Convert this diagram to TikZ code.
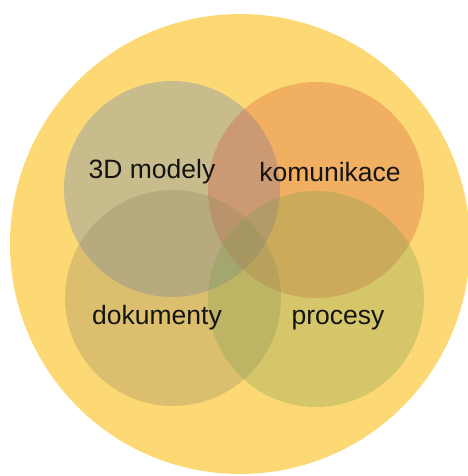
\documentclass[tikz,border=0pt]{standalone}
\usepackage{fontspec}
\setmainfont{Liberation Sans}
\usepackage{tikz}
\usetikzlibrary{positioning}

\definecolor{bigyellow}{RGB}{253,217,117}
\definecolor{modelgray}{RGB}{80,120,194}
\definecolor{commorange}{RGB}{210,80,54}
\definecolor{docgold}{RGB}{143,134,94}
\definecolor{procolive}{RGB}{123,160,80}

\begin{document}
\begin{tikzpicture}[
      x=1pt, y=-1pt,
      circle_big/.style={
         circle,
         fill=bigyellow,
         inner sep=0pt,
         minimum size=460pt},
      circle_part/.style={
         circle,
         fill opacity=0.3,
         text opacity=1,
         inner sep=0pt,
         minimum size=216pt},
      label_txt/.style={
         text=black!92,
         inner sep=0pt,
         font=\fontsize{26.5}{30}\selectfont}
]
      \useasboundingbox (0,0) rectangle (467,476);

      %background
      \node[circle_big] (big) at (240,244) {};

      %four areas
      \node[circle_part,fill=modelgray] (models) at (172,189) {};
      \node[circle_part,fill=commorange] (comm) at (316,190) {};
      \node[circle_part,fill=docgold] (docs) at (173,298) {};
      \node[circle_part,fill=procolive] (proc) at (316,299) {};

      %labels
      \node[label_txt] (models_t) at (152,172) {3D modely};
      \node[label_txt] (comm_t) at (330,172) {komunikace};
      \node[label_txt] (docs_t) at (157,318) {dokumenty};
      \node[label_txt] (proc_t) at (338,320) {procesy};
\end{tikzpicture}
\end{document}
